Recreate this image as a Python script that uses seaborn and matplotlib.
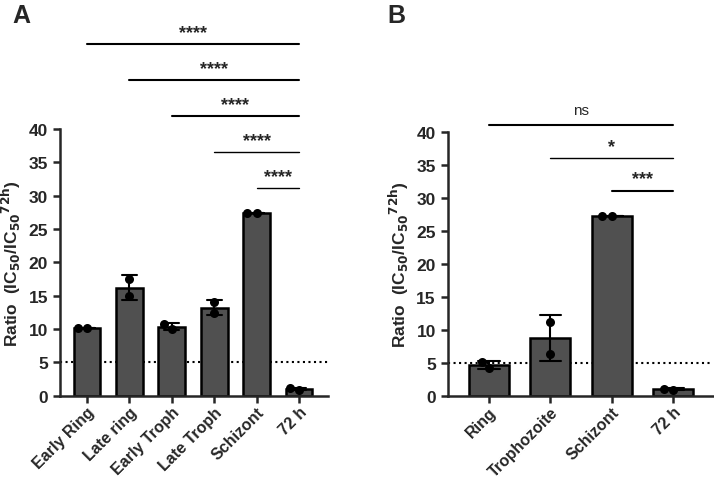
import pandas as pd
import numpy as np
import seaborn as sns
import matplotlib.pyplot as plt

# stage ratios, two replicates each
stages_a = ['Early Ring', 'Late ring', 'Early Troph', 'Late Troph', 'Schizont', '72 h']
rep1_a = [10.2, 17.5, 10.0, 14.0, 27.4, 0.9]
rep2_a = [10.2, 14.9, 10.7, 12.4, 27.4, 1.1]

stages_b = ['Ring', 'Trophozoite', 'Schizont', '72 h']
rep1_b = [5.1, 11.2, 27.3, 0.9]
rep2_b = [4.2, 6.3, 27.3, 1.1]

# significance brackets: (start group, end group, height, label)
sig_a = [(0, 5, 52.7, '****'), (1, 5, 47.3, '****'), (2, 5, 41.9, '****'),
         (3, 5, 36.5, '****'), (4, 5, 31.1, '****')]
sig_b = [(0, 3, 41.1, 'ns'), (1, 3, 36.1, '*'), (2, 3, 31.1, '***')]

threshold = 5

sns.set_style('ticks')
plt.rcParams['font.family'] = ['Liberation Sans', 'DejaVu Sans']
plt.rcParams['font.weight'] = 'bold'

fig = plt.figure(figsize=(7.14, 4.81), dpi=100)
ax_a = fig.add_axes([0.084, 0.175, 0.375, 0.555])
ax_b = fig.add_axes([0.627, 0.175, 0.372, 0.548])


def draw_panel(ax, stages, r1, r2, sig, width, xlim):
    df = pd.DataFrame({'stage': stages * 2, 'ratio': r1 + r2})
    df['stage'] = pd.Categorical(df['stage'], categories=stages, ordered=True)
    sns.barplot(data=df, x='stage', y='ratio', order=stages, estimator='mean',
                errorbar='sd', capsize=0.35, color='#505050', saturation=1,
                edgecolor='black', linewidth=1.8, width=width,
                err_kws={'color': 'black', 'linewidth': 1.5}, ax=ax)
    sns.swarmplot(data=df, x='stage', y='ratio', order=stages, color='black',
                  size=6.5, ax=ax)
    ax.axhline(threshold, ls=':', color='black', lw=1.5, zorder=0.5)
    ax.set_ylim(0, 40)
    ax.set_xlim(*xlim)
    ax.set_yticks(range(0, 41, 5))
    ax.set_xlabel('')
    ax.set_ylabel('Ratio  (IC$_{\\mathbf{50}}$/IC$_{\\mathbf{50}}$$^{\\mathbf{72h}}$)',
                  fontsize=12.5, fontweight='bold', labelpad=4)
    for s in ['top', 'right']:
        ax.spines[s].set_visible(False)
    for s in ['left', 'bottom']:
        ax.spines[s].set_linewidth(1.8)
    ax.tick_params(width=1.8, length=5)
    ax.tick_params(axis='y', labelsize=12.5)
    ax.tick_params(axis='x', labelsize=11.5, pad=1)
    plt.setp(ax.get_xticklabels(), rotation=45, ha='right',
             rotation_mode='anchor', fontweight='bold')
    plt.setp(ax.get_yticklabels(), fontweight='bold')
    for i, (a, b, h, lab) in enumerate(sig):
        lw = 1.5 if i < 3 and lab != '*' else 1.0
        ax.plot([a, b], [h, h], color='black', lw=lw, clip_on=False)
        if '*' in lab:
            ax.text((a + b) / 2, h + 0.5, lab, ha='center', va='bottom',
                    fontsize=13, fontweight='bold', clip_on=False)
        else:
            ax.text((a + b) / 2, h + 1.2, lab, ha='center', va='bottom',
                    fontsize=11, fontweight='normal', clip_on=False)


draw_panel(ax_a, stages_a, rep1_a, rep2_a, sig_a, 0.63, (-0.64, 5.68))
draw_panel(ax_b, stages_b, rep1_b, rep2_b, sig_b, 0.65, (-0.67, 3.65))

fig.text(0.017, 0.967, 'A', fontsize=18, fontweight='bold', va='center')
fig.text(0.543, 0.967, 'B', fontsize=18, fontweight='bold', va='center')

fig.savefig('out.png', dpi=100)
